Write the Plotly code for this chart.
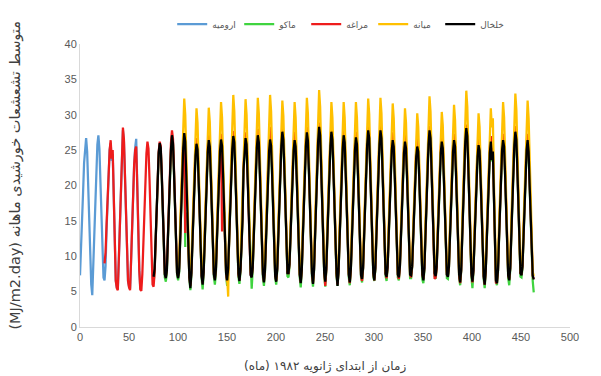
import numpy as np
import plotly.graph_objects as go

# x-axis units per monthly step
MONTH_STEP = 1.0428

names = ["ارومیه", "ماکو", "مراغه", "میانه", "خلخال"]
colors = ["#5B9BD5", "#3FD43F", "#EE1C1C", "#FFC000", "#000000"]
start_month = [0, 72, 24, 96, 72]

urmia = [
    7.3, 10.5, 14.5, 19.0, 23.2, 25.8, 26.7, 24.8, 19.8, 14.2, 9.2, 6.0,
    4.5, 8.5, 13.0, 17.8, 22.5, 25.8, 27.1, 25.2, 20.5, 14.8, 9.8, 7.0,
    6.6, 8.6, 13.8, 18.5, 22.5, 25.0, 26.0, 23.5, 24.5, 17.2, 10.8, 6.6,
    5.6, 5.4, 9.6, 14.4, 19.3, 23.8, 27.8, 26.2, 21.3, 15.3, 9.9, 6.4,
    5.7, 5.4, 9.4, 14.4, 19.3, 23.0, 25.4, 26.6, 20.5, 13.7, 8.2, 5.5,
    5.3,
]

maku = [
    6.3, 7.8, 12.0, 16.6, 21.0, 24.4, 25.8, 25.1, 21.3, 16.0, 10.6, 7.0,
    6.4, 7.8, 12.3, 16.8, 21.4, 24.9, 26.9, 25.8, 21.6, 16.2, 11.0, 7.3,
    6.6, 7.7, 12.0, 16.7, 21.6, 25.1, 27.2, 11.3, None, 15.8, 10.4, 6.9,
    5.2, 7.4, 11.6, 16.2, 20.8, 24.0, 25.7, 24.9, 21.0, 15.6, 10.4, 7.0,
    5.3, 7.5, 11.8, 16.4, 21.1, 24.5, 26.2, 25.3, 21.2, 15.9, 10.7, 7.1,
    6.0, 7.8, 12.2, 16.7, 21.3, 24.7, 26.3, 25.4, 21.4, 16.1, 10.8, 7.2,
    5.8, 8.0, 12.3, 16.9, 21.6, 25.0, 26.8, 25.9, 21.7, 16.3, 10.9, 7.1,
    6.1, 7.8, 11.1, 15.0, 22.0, 24.8, 26.5, 25.6, 21.5, 16.0, 10.7, 7.0,
    5.4, 8.1, 12.4, 17.0, 21.7, 25.1, 26.9, 25.9, 21.6, 16.2, 10.8, 7.0,
    5.8, 7.7, 12.0, 16.6, 21.2, 24.6, 26.3, 25.4, 21.3, 15.9, 10.5, 6.9,
    6.0, 8.0, 12.4, 17.1, 21.9, 25.4, 27.4, 26.3, 22.0, 16.4, 11.0, 7.2,
    7.0, 8.6, 12.7, 17.0, 21.4, 24.7, 26.2, 25.3, 21.2, 16.0, 10.7, 7.0,
    5.6, 7.8, 12.3, 17.0, 21.8, 25.3, 27.3, 26.2, 21.9, 16.3, 10.9, 7.1,
    5.7, 7.9, 12.6, 17.4, 22.3, 26.0, 28.1, 26.9, 22.3, 16.6, 11.1, 7.2,
    5.7, 8.0, 12.4, 17.1, 21.9, 25.4, 27.4, 26.3, 22.0, 16.4, 11.0, 7.2,
    5.8, 7.7, 12.1, 16.8, 21.5, 24.9, 26.9, 25.9, 21.6, 16.1, 10.8, 7.0,
    5.9, 7.9, 12.1, 16.7, 21.3, 24.7, 26.6, 25.6, 21.4, 16.0, 10.7, 7.0,
    6.3, 8.2, 12.6, 17.3, 22.1, 25.6, 27.6, 26.5, 22.1, 16.5, 11.0, 7.1,
    6.5, 8.1, 12.6, 17.3, 22.1, 25.6, 27.6, 26.5, 22.1, 16.5, 11.0, 7.2,
    6.5, 8.3, 12.4, 16.8, 21.3, 24.7, 26.2, 25.3, 21.2, 15.9, 10.7, 7.0,
    6.6, 8.3, 12.3, 16.7, 21.1, 24.4, 26.0, 25.1, 21.1, 15.8, 10.6, 6.9,
    6.9, 8.4, 12.2, 16.4, 20.7, 23.9, 25.3, 24.6, 20.7, 15.6, 10.5, 6.7,
    6.2, 8.1, 12.6, 17.3, 22.1, 25.6, 27.6, 26.5, 22.1, 16.5, 11.0, 7.2,
    6.8, 8.3, 12.3, 16.7, 21.1, 24.4, 26.0, 25.1, 21.1, 15.8, 10.6, 6.9,
    6.8, 8.3, 12.4, 16.8, 21.3, 24.6, 26.2, 25.3, 21.2, 15.9, 10.7, 7.0,
    5.9, 7.9, 12.5, 17.4, 22.4, 26.0, 27.9, 26.8, 22.3, 16.6, 11.1, 7.1,
    5.5, 7.8, 11.9, 16.3, 20.7, 23.9, 25.5, 24.7, 20.8, 15.6, 10.4, 6.8,
    5.5, 7.7, 11.9, 16.4, 21.0, 24.4, 26.0, 23.4, 24.6, 16.8, 10.3, 6.4,
    5.9, 7.8, 12.2, 16.8, 21.4, 24.8, 26.2, 25.3, 21.2, 15.9, 10.7, 6.9,
    5.9, 8.1, 12.6, 17.3, 22.0, 25.5, 27.4, 26.3, 22.0, 16.4, 11.0, 7.1,
    7.0, 8.4, 12.5, 16.9, 21.4, 24.8, 26.2, 24.6, 19.8, 14.3, 9.6, 6.5,
    4.9,
]

maragheh = [
    9.0, 10.5, 14.5, 19.0, 22.8, 25.0, 26.4, 23.8, 25.0, 17.5, 11.0, 6.5,
    5.5, 5.2, 9.5, 14.5, 19.5, 24.0, 28.2, 26.5, 21.5, 15.5, 10.0, 6.5,
    5.6, 5.2, 9.5, 14.5, 19.5, 23.0, 25.0, 25.5, 20.0, 13.5, 8.0, 5.3,
    5.1, 7.5, 12.0, 16.5, 21.0, 24.5, 26.2, 25.2, 21.0, 15.0, 9.5, 6.0,
    5.7, 7.6, 12.0, 16.6, 21.2, 24.8, 26.2, 25.6, 21.8, 16.4, 11.0, 7.5,
    7.0, 8.4, 12.8, 17.4, 22.2, 26.0, 27.8, 26.6, 22.3, 16.7, 11.3, 7.6,
    7.2, 8.3, 12.6, 17.3, 22.4, 26.2, 27.0, 13.3, None, 16.2, 10.6, 7.1,
    5.8, 7.8, 12.1, 16.8, 21.6, 25.0, 26.7, 25.8, 21.6, 16.1, 10.8, 7.3,
    6.2, 8.0, 12.3, 17.0, 21.9, 25.4, 27.1, 26.1, 21.8, 16.3, 11.0, 7.5,
    6.8, 8.3, 12.7, 17.4, 22.2, 25.7, 27.3, 13.5, None, 16.3, 11.0, 7.4,
    6.4, 7.4, 12.6, 17.4, 22.3, 25.9, 27.7, 26.6, 22.3, 16.7, 11.2, 7.5,
    6.6, 8.1, 11.6, 15.6, 22.6, 25.6, 27.5, 26.4, 22.0, 16.4, 11.0, 7.4,
    7.1, 8.5, 12.9, 17.7, 22.6, 26.2, 28.0, 26.8, 22.3, 16.6, 11.1, 7.5,
    6.4, 8.2, 12.8, 17.8, 22.7, 26.3, 28.3, 27.0, 22.4, 16.6, 11.0, 7.3,
    6.5, 8.3, 12.9, 17.8, 22.7, 26.3, 28.3, 27.0, 22.5, 16.8, 11.3, 7.7,
    7.5, 8.9, 13.1, 17.6, 22.3, 25.7, 27.6, 26.4, 22.0, 16.5, 11.1, 7.5,
    6.3, 8.1, 12.8, 17.7, 22.6, 26.2, 28.3, 27.1, 22.5, 16.7, 11.2, 7.6,
    6.2, 8.2, 13.0, 18.0, 23.0, 26.8, 28.9, 27.6, 22.8, 17.0, 11.4, 7.7,
    5.8, 8.1, 12.9, 17.8, 22.7, 26.3, 28.3, 27.0, 22.5, 16.8, 11.3, 7.6,
    6.0, 8.0, 12.5, 17.4, 22.2, 25.8, 27.8, 26.6, 22.1, 16.5, 11.1, 7.5,
    6.2, 8.1, 12.6, 17.3, 22.1, 25.6, 27.6, 26.4, 22.0, 16.4, 11.0, 7.4,
    6.5, 8.3, 13.0, 17.9, 22.8, 26.4, 28.4, 27.2, 22.6, 16.9, 11.3, 7.6,
    6.6, 8.4, 13.0, 17.9, 22.8, 26.4, 28.5, 27.2, 22.6, 16.9, 11.3, 7.6,
    6.9, 8.5, 12.9, 17.5, 22.2, 25.7, 27.5, 26.3, 22.0, 16.4, 11.0, 7.4,
    6.8, 8.4, 12.8, 17.3, 22.0, 25.4, 27.2, 26.1, 21.8, 16.3, 11.0, 7.4,
    7.0, 8.5, 12.7, 17.1, 21.7, 25.0, 26.7, 25.6, 21.5, 16.1, 10.9, 7.4,
    6.8, 8.4, 13.0, 17.9, 22.8, 26.4, 28.4, 27.2, 22.6, 16.9, 11.3, 6.8,
    7.0, 8.3, 12.8, 17.3, 22.0, 25.4, 27.1, 26.0, 21.8, 16.3, 11.0, 7.4,
    7.2, 8.5, 12.9, 17.5, 22.2, 25.6, 27.3, 26.2, 21.9, 16.4, 11.0, 7.2,
    6.2, 8.0, 13.0, 18.1, 23.1, 26.8, 28.6, 27.3, 22.7, 16.9, 11.3, 7.6,
    6.3, 8.0, 12.4, 17.0, 21.6, 25.0, 26.7, 25.7, 21.6, 16.1, 10.8, 7.2,
    6.0, 7.9, 12.4, 17.1, 21.9, 25.4, 27.0, 24.5, 25.3, 17.4, 10.7, 6.2,
    6.3, 8.0, 12.6, 17.3, 22.0, 25.5, 27.3, 26.2, 21.9, 16.4, 11.0, 7.4,
    6.7, 8.4, 13.1, 18.0, 23.0, 26.6, 28.4, 27.2, 22.6, 16.8, 11.3, 7.6,
    7.4, 8.7, 13.0, 17.6, 22.3, 25.8, 27.3, 25.4, 20.4, 14.8, 10.0, 7.2,
    6.8,
]

mianeh = [
    7.5, 9.8, 14.5, 19.8, 25.2, 29.8, 32.3, 30.0, 24.8, 18.4, 12.0, 7.8,
    6.8, 9.3, 13.8, 18.8, 24.0, 28.6, 30.9, 28.9, 24.0, 17.9, 11.8, 7.8,
    7.0, 9.4, 13.9, 18.9, 24.1, 28.7, 31.0, 29.0, 24.1, 18.0, 11.9, 7.9,
    7.2, 9.6, 14.3, 19.4, 24.7, 29.4, 31.8, 29.6, 24.5, 18.2, 12.0, 7.5,
    7.0, 4.3, 14.6, 19.9, 25.4, 30.3, 32.8, 30.5, 25.2, 18.6, 12.2, 7.9,
    7.3, 9.6, 14.3, 19.5, 25.0, 29.9, 32.2, 30.0, 24.8, 18.4, 12.1, 7.9,
    7.4, 9.7, 14.4, 19.6, 25.1, 30.1, 32.4, 30.2, 25.0, 18.5, 12.1, 7.9,
    7.0, 9.6, 14.5, 19.8, 25.3, 30.4, 32.8, 30.5, 25.2, 18.6, 12.2, 7.9,
    6.8, 9.5, 14.3, 19.6, 25.0, 29.8, 32.0, 29.8, 24.8, 18.4, 12.1, 8.0,
    7.9, 9.9, 14.4, 19.5, 24.8, 29.6, 31.8, 29.6, 24.6, 18.3, 12.0, 7.8,
    6.7, 9.4, 14.3, 19.7, 25.2, 30.1, 32.4, 30.2, 25.0, 18.5, 12.1, 7.9,
    6.6, 9.5, 14.7, 20.3, 26.0, 31.0, 33.5, 31.1, 25.6, 18.9, 12.3, 8.0,
    6.9, 9.5, 14.3, 19.5, 24.9, 29.6, 31.8, 29.6, 24.6, 18.3, 12.0, 7.8,
    6.4, 9.2, 14.1, 19.4, 24.8, 29.5, 31.8, 29.6, 24.6, 18.3, 12.0, 7.8,
    6.8, 9.4, 14.2, 19.4, 24.8, 29.5, 31.8, 29.6, 24.6, 18.3, 12.0, 7.9,
    7.2, 9.7, 14.5, 19.7, 25.1, 30.0, 32.3, 30.1, 25.0, 18.5, 12.1, 8.0,
    7.1, 9.6, 14.5, 19.8, 25.2, 30.1, 32.4, 30.2, 25.0, 18.5, 12.1, 7.9,
    7.6, 9.8, 14.3, 19.3, 24.6, 29.3, 31.6, 29.5, 24.5, 18.2, 12.0, 7.9,
    7.4, 9.6, 14.0, 18.9, 24.0, 28.7, 30.9, 28.9, 24.0, 17.9, 11.8, 7.8,
    7.7, 9.7, 13.9, 18.6, 23.6, 28.1, 30.2, 28.3, 23.6, 17.6, 11.7, 7.8,
    7.0, 9.6, 14.6, 20.0, 25.5, 30.4, 32.6, 30.4, 25.1, 18.6, 12.2, 8.0,
    7.6, 9.7, 14.0, 18.8, 23.8, 28.3, 30.4, 28.5, 23.7, 17.7, 11.7, 7.8,
    7.5, 9.7, 14.2, 19.2, 24.4, 29.1, 31.4, 29.3, 24.3, 18.1, 11.9, 7.8,
    6.8, 9.6, 14.8, 20.4, 26.0, 31.0, 33.4, 31.1, 25.6, 18.9, 12.3, 8.0,
    6.9, 9.3, 13.8, 18.7, 23.7, 28.2, 30.2, 28.3, 23.6, 17.6, 11.6, 7.6,
    6.6, 9.2, 13.9, 18.9, 24.1, 28.7, 30.9, 28.2, 29.5, 21.0, 12.5, 7.4,
    6.8, 9.4, 14.2, 19.4, 24.8, 29.5, 31.8, 29.6, 24.6, 18.3, 12.0, 7.8,
    7.1, 9.7, 14.7, 20.1, 25.7, 30.6, 33.0, 30.7, 25.3, 18.7, 12.2, 7.9,
    7.6, 9.8, 14.5, 19.7, 25.2, 30.0, 32.0, 29.5, 23.0, 16.5, 11.0, 7.8,
    7.2,
]

khalkhal = [
    7.1, 8.2, 12.3, 16.8, 21.2, 24.6, 26.0, 25.3, 21.5, 16.2, 10.8, 7.4,
    6.9, 8.0, 12.5, 17.0, 21.6, 25.1, 27.1, 26.0, 21.8, 16.4, 11.2, 7.6,
    6.9, 7.9, 12.2, 16.9, 21.8, 25.3, 27.4, 26.2, 21.6, 16.0, 10.5, 7.0,
    5.5, 7.6, 11.8, 16.4, 21.0, 24.2, 25.9, 25.1, 21.2, 15.8, 10.6, 7.2,
    6.0, 7.8, 12.0, 16.6, 21.3, 24.7, 26.4, 25.5, 21.4, 16.1, 10.9, 7.4,
    6.6, 8.1, 12.4, 16.9, 21.5, 24.9, 26.5, 25.6, 21.6, 16.3, 11.0, 7.5,
    6.6, 8.3, 12.5, 17.1, 21.8, 25.2, 27.0, 26.1, 21.9, 16.5, 11.1, 7.6,
    6.5, 8.0, 11.3, 15.1, 22.2, 25.0, 26.7, 25.8, 21.7, 16.2, 10.9, 7.3,
    7.0, 8.4, 12.6, 17.2, 21.9, 25.3, 27.1, 26.1, 21.8, 16.4, 11.0, 7.4,
    6.3, 8.0, 12.2, 16.8, 21.4, 24.8, 26.5, 25.6, 21.5, 16.1, 10.7, 7.2,
    6.4, 8.2, 12.6, 17.3, 22.1, 25.6, 27.6, 26.5, 22.2, 16.6, 11.2, 7.6,
    7.6, 8.9, 12.9, 17.2, 21.6, 24.9, 26.4, 25.5, 21.4, 16.2, 10.9, 7.4,
    6.2, 8.0, 12.5, 17.2, 22.0, 25.5, 27.5, 26.4, 22.1, 16.5, 11.1, 7.5,
    6.1, 8.1, 12.8, 17.6, 22.5, 26.2, 28.3, 27.1, 22.5, 16.8, 11.3, 7.6,
    6.4, 8.2, 12.6, 17.3, 22.1, 25.6, 27.6, 26.5, 22.2, 16.6, 11.2, 7.6,
    5.8, 7.9, 12.3, 17.0, 21.7, 25.1, 27.1, 26.1, 21.8, 16.3, 11.0, 7.4,
    6.3, 8.1, 12.3, 16.9, 21.5, 24.9, 26.8, 25.8, 21.6, 16.2, 10.9, 7.3,
    6.8, 8.4, 12.8, 17.5, 22.3, 25.8, 27.8, 26.7, 22.3, 16.7, 11.2, 7.6,
    6.6, 8.3, 12.8, 17.5, 22.3, 25.8, 27.8, 26.7, 22.3, 16.7, 11.2, 7.5,
    7.1, 8.5, 12.6, 17.0, 21.5, 24.9, 26.4, 25.5, 21.4, 16.1, 10.9, 7.4,
    7.0, 8.5, 12.5, 16.9, 21.3, 24.6, 26.2, 25.3, 21.3, 16.0, 10.8, 7.4,
    7.3, 8.6, 12.4, 16.6, 20.9, 24.1, 25.5, 24.8, 20.9, 15.8, 10.7, 7.4,
    6.6, 8.3, 12.8, 17.5, 22.3, 25.8, 27.8, 26.7, 22.3, 16.7, 11.2, 7.6,
    7.2, 8.5, 12.5, 16.9, 21.3, 24.6, 26.2, 25.3, 21.3, 16.0, 10.8, 7.4,
    7.1, 8.5, 12.6, 17.0, 21.5, 24.8, 26.4, 25.5, 21.4, 16.1, 10.9, 7.4,
    6.3, 8.1, 12.7, 17.6, 22.6, 26.2, 28.1, 27.0, 22.5, 16.8, 11.3, 7.6,
    6.4, 8.0, 12.1, 16.5, 20.9, 24.1, 25.7, 24.9, 21.0, 15.8, 10.6, 7.2,
    6.0, 7.9, 12.1, 16.6, 21.2, 24.6, 26.2, 23.6, 24.8, 17.0, 10.5, 6.6,
    6.2, 8.0, 12.4, 17.0, 21.6, 25.0, 26.4, 25.5, 21.4, 16.1, 10.9, 7.3,
    6.6, 8.3, 12.8, 17.5, 22.2, 25.7, 27.6, 26.5, 22.2, 16.6, 11.2, 7.6,
    7.3, 8.6, 12.7, 17.1, 21.6, 25.0, 26.4, 24.8, 20.0, 14.5, 9.8, 7.3,
    6.7,
]

series = [urmia, maku, maragheh, mianeh, khalkhal]

x_ticks = [0, 50, 100, 150, 200, 250, 300, 350, 400, 450, 500]
y_ticks = [0, 5, 10, 15, 20, 25, 30, 35, 40]

fig = go.Figure()
for name, color, start, vals in zip(names, colors, start_month, series):
    months = start + np.arange(len(vals))
    fig.add_trace(go.Scatter(
        x=months * MONTH_STEP, y=vals, mode="lines", name=name,
        line=dict(color=color, width=2.25), connectgaps=False,
    ))

tick_font = dict(family="Liberation Sans, Arial, sans-serif", size=11, color="#595959")

fig.update_layout(
    width=601, height=376,
    margin=dict(l=80, r=31, t=44, b=49, autoexpand=False),
    paper_bgcolor="white", plot_bgcolor="white",
    showlegend=True,
    legend=dict(orientation="h", x=0.53, xanchor="center", y=1.07, yanchor="middle",
                font=dict(family="DejaVu Sans, sans-serif", size=9, color="#595959"),
                itemwidth=30, entrywidth=22, entrywidthmode="pixels",
                bgcolor="rgba(0,0,0,0)"),
    xaxis=dict(range=[0, 500], tickvals=x_ticks, showgrid=False, zeroline=False,
               showline=True, linecolor="#d9d9d9", linewidth=1, ticks="",
               tickfont=tick_font),
    yaxis=dict(range=[0, 40], tickvals=y_ticks, showgrid=False, zeroline=False,
               showline=True, linecolor="#d9d9d9", linewidth=1, ticks="",
               tickfont=tick_font),
    annotations=[
        dict(text="\u200fزمان از ابتدای ژانویه ۱۹۸۲ (ماه)\u200f", xref="paper", yref="paper",
             x=0.5, y=-0.138, xanchor="center", yanchor="middle", showarrow=False,
             font=dict(family="DejaVu Sans, sans-serif", size=12, color="#404040")),
        dict(text="(MJ/m2.day) متوسط تشعشعات خورشیدی ماهانه", xref="paper", yref="paper",
             x=-0.1306, y=0.535, xanchor="center", yanchor="middle", textangle=-90,
             showarrow=False,
             font=dict(family="DejaVu Sans, sans-serif", size=14.5, color="#404040")),
    ],
)

fig.write_html("out.html", config={"displayModeBar": False},
               post_script="document.body.style.margin='0';")
